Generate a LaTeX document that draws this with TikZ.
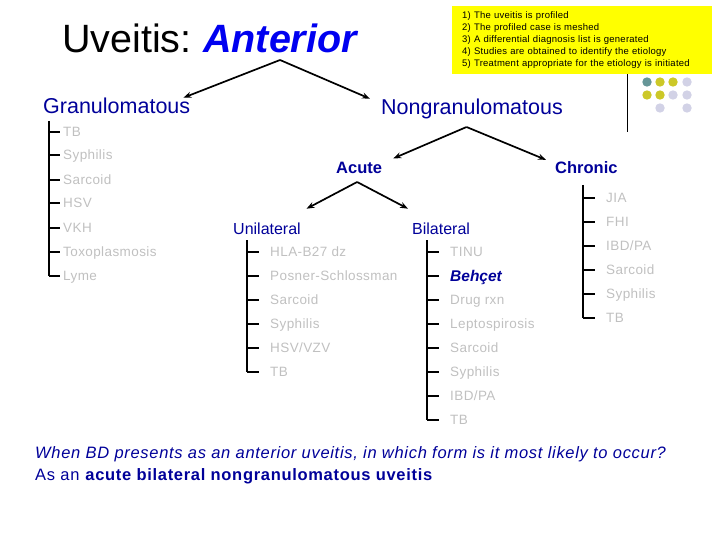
\documentclass[tikz,border=0pt]{standalone}
\usepackage{fontspec}
\setmainfont{Liberation Sans}
\usetikzlibrary{arrows.meta}
\definecolor{dblue}{RGB}{0,0,153}
\definecolor{brblue}{RGB}{0,0,240}
\definecolor{lgrey}{RGB}{192,192,192}
\definecolor{yel}{RGB}{255,255,0}
\definecolor{dteal}{RGB}{102,150,152}
\definecolor{dolive}{RGB}{204,200,40}
\definecolor{dlav}{RGB}{210,210,230}
\begin{document}
\begin{tikzpicture}[x=1pt,y=-1pt,
  item/.style={anchor=west, inner sep=0pt, text height=9.7pt, text depth=0pt, text=lgrey, font=\fontsize{13.5}{16}\selectfont\addfontfeature{LetterSpace=3}},
  beh/.style={anchor=west, inner sep=0pt, text height=11.1pt, text depth=0pt, text=dblue, font=\fontsize{15.5}{18}\selectfont\bfseries\itshape},
  tree/.style={line width=1.4pt, black},
  arr/.style={line width=1.7pt, -{Stealth[length=8pt,width=6pt]}},
  head/.style={anchor=base west, inner sep=0pt, text=dblue}
]
\useasboundingbox (0,0) rectangle (720,540);
% decoration: dots and line
\foreach \x/\y/\c in {647/69/dlav,660/69/dlav,673/69/dlav,687/69/dlav,
  647/82/dteal,660/82/dolive,673/82/dolive,687/82/dlav,
  647/95/dolive,660/95/dolive,673/95/dlav,687/95/dlav,
  660/108/dlav,687/108/dlav}
  \fill[\c] (\x,\y) circle[radius=4.7pt];
\draw[line width=1pt] (627,70) -- (627,132);
% yellow box
\node[fill=yel, anchor=north west, minimum width=260pt, minimum height=68pt, text width=240pt, inner xsep=10pt, inner ysep=0pt, align=left, font=\fontsize{9.5}{12}\selectfont\addfontfeature{LetterSpace=2.5}] (steps) at (452,6)
 {1) The uveitis is profiled\\
  2) The profiled case is meshed\\
  3) A differential diagnosis list is generated\\
  4) Studies are obtained to identify the etiology\\
  5) Treatment appropriate for the etiology is initiated};
% title
\node[anchor=base west, inner sep=0pt, font=\fontsize{39.5}{44}\selectfont] (uv) at (62,53) {Uveitis:};
\node[anchor=base west, inner sep=0pt, text=brblue, font=\fontsize{39.5}{44}\selectfont\bfseries\itshape] (ant) at (203,53) {Anterior};
% headings
\node[head, font=\fontsize{21.5}{24}\selectfont] (gran) at (43,114) {Granulomatous};
\node[head, font=\fontsize{21.5}{24}\selectfont] (nong) at (381,115) {Nongranulomatous};
\node[head, font=\fontsize{16.5}{19}\selectfont\bfseries] (acute) at (336,174) {Acute};
\node[head, font=\fontsize{16.5}{19}\selectfont\bfseries] (chron) at (555,174) {Chronic};
\node[head, font=\fontsize{16}{19}\selectfont] (uni) at (233,234) {Unilateral};
\node[head, font=\fontsize{16}{19}\selectfont] (bil) at (412,234) {Bilateral};
% arrows
\draw[arr] ([yshift=-7pt]ant.base) -- ([xshift=-7pt,yshift=0.5pt]gran.north east);
\draw[arr] ([yshift=-7pt]ant.base) -- ([xshift=-11pt,yshift=0.5pt]nong.north west);
\draw[arr] ([xshift=-5.5pt,yshift=-12pt]nong.base) -- ([xshift=11pt,yshift=4pt]acute.north east);
\draw[arr] ([xshift=-5.5pt,yshift=-12pt]nong.base) -- ([xshift=-9pt,yshift=2pt]chron.north west);
\draw[arr] ([xshift=-2pt,yshift=-8pt]acute.base) -- ([xshift=5.5pt,yshift=13.5pt]uni.north east);
\draw[arr] ([xshift=-2pt,yshift=-8pt]acute.base) -- ([xshift=-4pt,yshift=13.5pt]bil.north west);
% granulomatous list
\coordinate (gtop) at (49,121);
\foreach \t/\y [count=\i] in {TB/132, Syphilis/155, Sarcoid/180, HSV/203, VKH/228, Toxoplasmosis/252, Lyme/276} {
  \node[item] (g\i) at (63,\y) {\t};
  \draw[tree] (gtop |- g\i.west) -- ([xshift=-3pt]g\i.west);
}
\draw[tree] (gtop) -- (gtop |- g7.west);
% unilateral list
\coordinate (utop) at (247,240);
\foreach \t/\y [count=\i] in {{HLA-B27 dz}/252, {Posner-Schlossman}/276, {Sarcoid}/300, {Syphilis}/324, {HSV/VZV}/348, {TB}/372} {
  \node[item] (u\i) at (270,\y) {\t};
  \draw[tree] (utop |- u\i.west) -- ([xshift=-11pt]u\i.west);
}
\draw[tree] (utop) -- (utop |- u6.west);
% bilateral list
\coordinate (btop) at (427,240);
\foreach \t/\y/\s [count=\i] in {{TINU}/252/item, {Behçet}/276/beh, {Drug rxn}/300/item, {Leptospirosis}/324/item, {Sarcoid}/348/item, {Syphilis}/372/item, {IBD/PA}/396/item, {TB}/420/item} {
  \node[\s] (b\i) at (450,\y) {\t};
  \draw[tree] (btop |- b\i.west) -- ([xshift=-11pt]b\i.west);
}
\draw[tree] (btop) -- (btop |- b8.west);
% chronic list
\coordinate (ctop) at (583,185);
\foreach \t/\y [count=\i] in {{JIA}/198, {FHI}/222, {IBD/PA}/246, {Sarcoid}/270, {Syphilis}/294, {TB}/318} {
  \node[item] (c\i) at (606,\y) {\t};
  \draw[tree] (ctop |- c\i.west) -- ([xshift=-11pt]c\i.west);
}
\draw[tree] (ctop) -- (ctop |- c6.west);
% bottom text
\node[anchor=base west, inner sep=0pt, text=dblue, font=\fontsize{16.5}{19}\selectfont\itshape\addfontfeature{LetterSpace=4.2}] (q) at (35,458) {When BD presents as an anterior uveitis, in which form is it most likely to occur?};
\node[anchor=base west, inner sep=0pt, text=dblue, font=\fontsize{16.5}{19}\selectfont\addfontfeature{LetterSpace=4.2}] (ans) at (35,480) {As an \textbf{acute bilateral nongranulomatous uveitis}};
\end{tikzpicture}
\end{document}
